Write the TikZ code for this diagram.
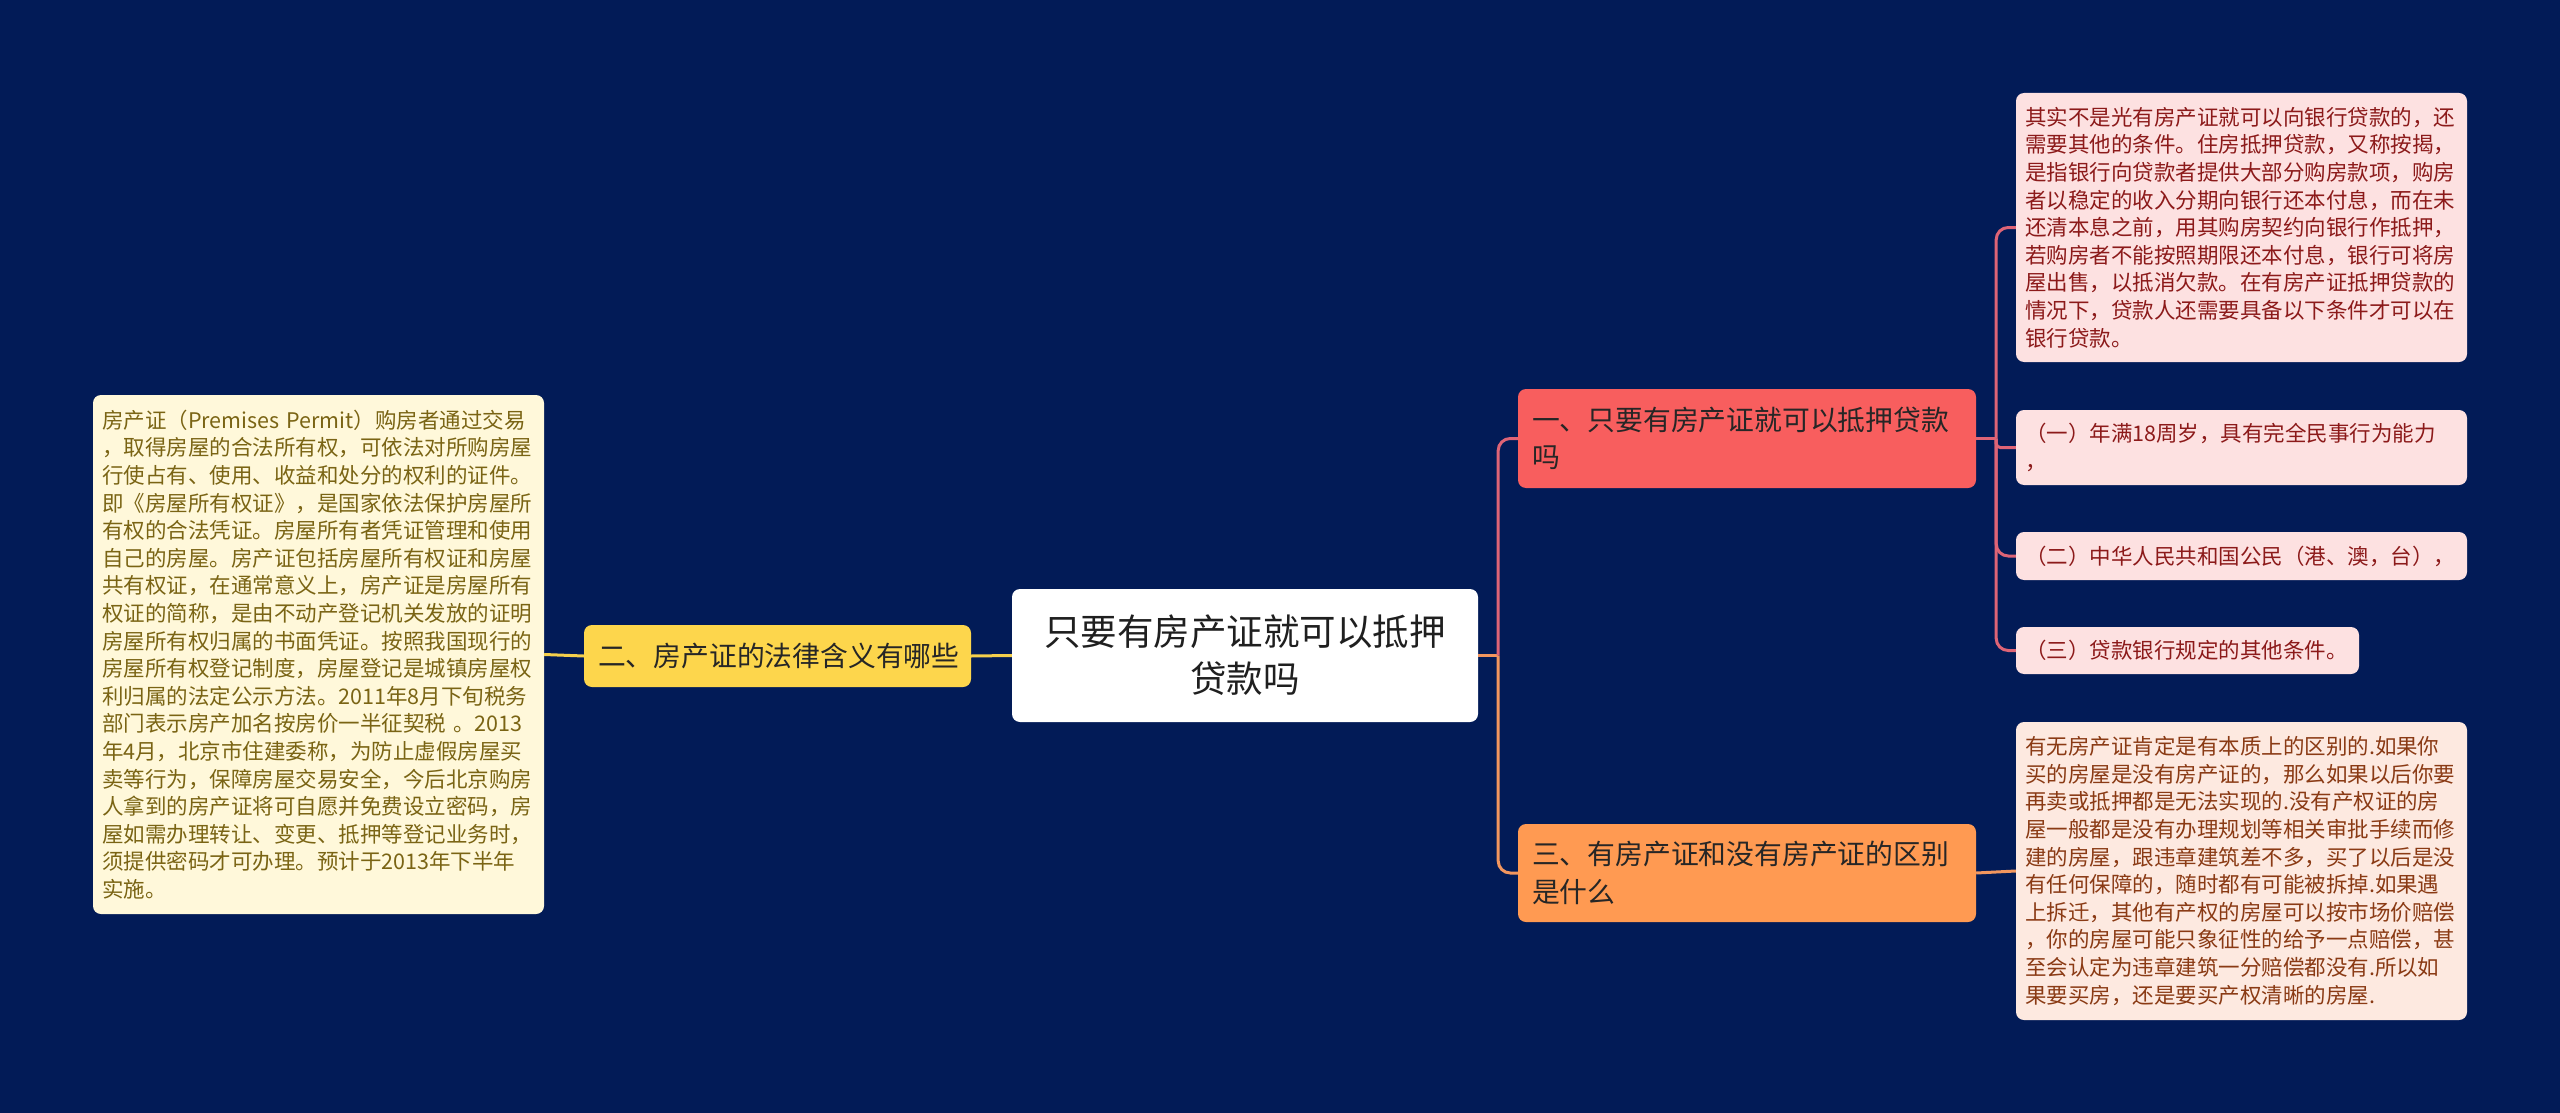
\documentclass[tikz,border=0pt]{standalone}
\usepackage{fontspec}
\setmainfont{Noto Sans CJK SC}
\definecolor{bg}{HTML}{021B57}
\definecolor{redfill}{HTML}{F85E5E}
\definecolor{orangefill}{HTML}{FF9A52}
\definecolor{yellowfill}{HTML}{FDD64C}
\definecolor{pinkleaf}{HTML}{FDE1E1}
\definecolor{peachleaf}{HTML}{FDE9E0}
\definecolor{creamleaf}{HTML}{FFF8DA}
\definecolor{redtext}{HTML}{8C1A1A}
\definecolor{browntext}{HTML}{8A3A14}
\definecolor{olivetext}{HTML}{7A6414}
\definecolor{pinkline}{HTML}{DE6476}
\definecolor{orangeline}{HTML}{F2965E}
\definecolor{yellowline}{HTML}{F5D04C}
\tikzset{
  basebox/.style={rounded corners=8pt, inner ysep=0pt, inner xsep=9pt, anchor=center},
  leafbox/.style={basebox, align=left, font=\fontsize{21.5}{27.6}\selectfont},
  branchbox/.style={basebox, align=left, inner xsep=14pt, font=\fontsize{27.8}{37.5}\selectfont, text=black!85},
  link/.style={line width=3pt},
}
\begin{document}
\begin{tikzpicture}[x=1pt,y=-1pt]
\useasboundingbox (0,0) rectangle (2560,1113);
\fill[bg] (0,0) rectangle (2560,1113);

% center
\node[basebox, fill=white, align=center, text width=440, minimum width=466, minimum height=133,
      font=\fontsize{36.5}{47}\selectfont, text=black!88] (root) at (1245,655.5)
  {只要有房产证就可以抵押\\贷款吗};

% left side
\node[branchbox, fill=yellowfill, text width=359, minimum width=387, minimum height=62] (b2) at (777.5,656)
  {二、房产证的法律含义有哪些};
\node[leafbox, fill=creamleaf, text=olivetext, text width=433, minimum width=451, minimum height=519] (lleaf) at (318.5,654.5)
  {房产证（Premises Permit）购房者通过交易\\
，取得房屋的合法所有权，可依法对所购房屋\\
行使占有、使用、收益和处分的权利的证件。\\
即《房屋所有权证》，是国家依法保护房屋所\\
有权的合法凭证。房屋所有者凭证管理和使用\\
自己的房屋。房产证包括房屋所有权证和房屋\\
共有权证，在通常意义上，房产证是房屋所有\\
权证的简称，是由不动产登记机关发放的证明\\
房屋所有权归属的书面凭证。按照我国现行的\\
房屋所有权登记制度，房屋登记是城镇房屋权\\
利归属的法定公示方法。2011年8月下旬税务\\
部门表示房产加名按房价一半征契税 。2013\\
年4月，北京市住建委称，为防止虚假房屋买\\
卖等行为，保障房屋交易安全，今后北京购房\\
人拿到的房产证将可自愿并免费设立密码，房\\
屋如需办理转让、变更、抵押等登记业务时，\\
须提供密码才可办理。预计于2013年下半年\\
实施。};

% right branches
\node[branchbox, fill=redfill, text width=430, minimum width=458, minimum height=99] (b1) at (1747,438.5)
  {一、只要有房产证就可以抵押贷款\\吗};
\node[branchbox, fill=orangefill, text width=430, minimum width=458, minimum height=98] (b3) at (1747,873)
  {三、有房产证和没有房产证的区别\\是什么};

% right leaves
\node[leafbox, fill=pinkleaf, text=redtext, text width=433, minimum width=451, minimum height=269] (l1) at (2241.5,227.5)
  {其实不是光有房产证就可以向银行贷款的，还\\
需要其他的条件。住房抵押贷款，又称按揭，\\
是指银行向贷款者提供大部分购房款项，购房\\
者以稳定的收入分期向银行还本付息，而在未\\
还清本息之前，用其购房契约向银行作抵押，\\
若购房者不能按照期限还本付息，银行可将房\\
屋出售，以抵消欠款。在有房产证抵押贷款的\\
情况下，贷款人还需要具备以下条件才可以在\\
银行贷款。};
\node[leafbox, fill=pinkleaf, text=redtext, text width=433, minimum width=451, minimum height=75] (l2) at (2241.5,447.5)
  {（一）年满18周岁，具有完全民事行为能力\\，};
\node[leafbox, fill=pinkleaf, text=redtext, text width=433, minimum width=451, minimum height=48] (l3) at (2241.5,556)
  {（二）中华人民共和国公民（港、澳，台），};
\node[leafbox, fill=pinkleaf, text=redtext, text width=325, minimum width=343, minimum height=47] (l4) at (2187.5,650.5)
  {（三）贷款银行规定的其他条件。};
\node[leafbox, fill=peachleaf, text=browntext, text width=433, minimum width=451, minimum height=298] (l5) at (2241.5,871)
  {有无房产证肯定是有本质上的区别的.如果你\\
买的房屋是没有房产证的，那么如果以后你要\\
再卖或抵押都是无法实现的.没有产权证的房\\
屋一般都是没有办理规划等相关审批手续而修\\
建的房屋，跟违章建筑差不多，买了以后是没\\
有任何保障的，随时都有可能被拆掉.如果遇\\
上拆迁，其他有产权的房屋可以按市场价赔偿\\
，你的房屋可能只象征性的给予一点赔偿，甚\\
至会认定为违章建筑一分赔偿都没有.所以如\\
果要买房，还是要买产权清晰的房屋.};

% connectors
\draw[link, orangeline] (root.east) -- ++(20,0) coordinate (j1);
\draw[link, pinkline, rounded corners=12pt] (j1) |- (b1.west);
\draw[link, orangeline, rounded corners=12pt] (j1) |- (b3.west);

\draw[link, pinkline] (b1.east) -- ++(20,0) coordinate (j2);
\draw[link, pinkline, rounded corners=12pt] (j2) |- (l1.west);
\draw[link, pinkline, rounded corners=4pt] (j2) |- (l2.west);
\draw[link, pinkline, rounded corners=12pt] (j2) |- (l3.west);
\draw[link, pinkline, rounded corners=12pt] (j2) |- (l4.west);

\draw[link, orangeline] (b3.east) -- (l5.west);

\draw[link, yellowline] (root.west) -- (b2.east);
\draw[link, yellowline] (b2.west) -- (lleaf.east);
\end{tikzpicture}
\end{document}
